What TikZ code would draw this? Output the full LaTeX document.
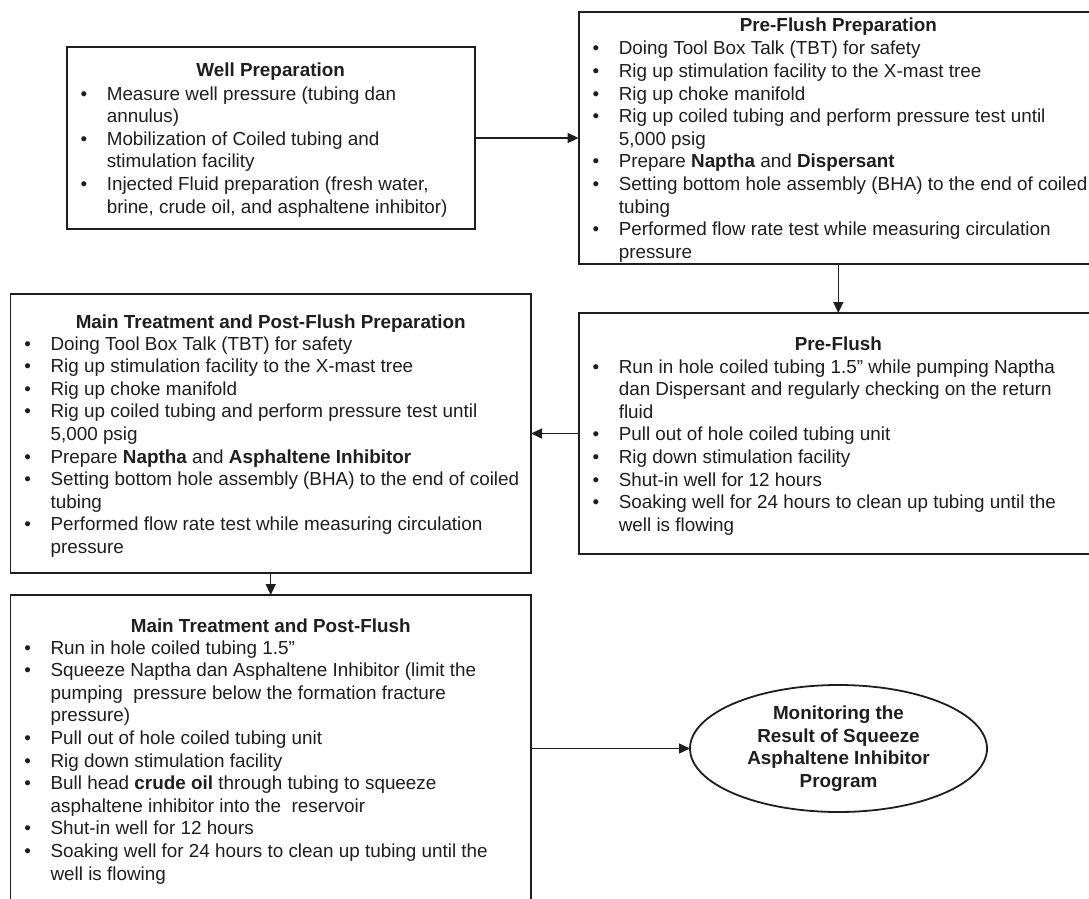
\documentclass[tikz,border=0pt]{standalone}
\usepackage{fontspec}
\setmainfont{Liberation Sans}
\usetikzlibrary{arrows.meta,shapes.geometric}
\definecolor{ink}{RGB}{30,30,30}
\newcommand\diagfont{\fontsize{18.86}{22.6}\selectfont}
\newcommand\blist[1]{\begin{tabular}[t]{@{}p{26.3pt}@{}l@{}}#1\end{tabular}}
\begin{document}
\begin{tikzpicture}[x=1pt,y=-1pt,
  box/.style={draw=ink, line width=1.8pt, rectangle, inner sep=0pt, outer sep=0pt},
  oval/.style={draw=ink, line width=1.8pt, ellipse, inner sep=0pt, outer sep=0pt, align=center, text=ink, font=\diagfont\bfseries},
  title/.style={anchor=base, inner sep=0pt, text=ink, font=\diagfont\bfseries},
  list/.style={anchor=base west, inner sep=0pt, text=ink, font=\diagfont},
  flow/.style={draw=ink, line width=1.4pt, -{Triangle[length=11pt,width=10pt]}}
]
\clip (0,0) rectangle (1089,899);

% boxes
\node[box, minimum width=408.1pt, minimum height=181.4pt] (wp) at (270.65,138) {};
\node[box, minimum width=519.4pt, minimum height=252pt] (pfp) at (838.3,138) {};
\node[box, minimum width=520.6pt, minimum height=279pt] (mp) at (270.7,433.5) {};
\node[box, minimum width=519.4pt, minimum height=241pt] (pf) at (838.3,433.5) {};
\node[box, minimum width=520.6pt, minimum height=330pt] (bt) at (270.7,760) {};
\node[oval, minimum width=297pt, minimum height=127pt] (el) at (838.5,748.5)
  {Monitoring the\\Result of Squeeze\\Asphaltene Inhibitor\\Program};

% Well Preparation
\node[title] (wpt) at (270.65,77) {Well Preparation};
\node[list] (wpl) at (80.3,100) {\blist{%
\textbullet & Measure well pressure (tubing dan\\
 & annulus)\\
\textbullet & Mobilization of Coiled tubing and\\
 & stimulation facility\\
\textbullet & Injected Fluid preparation (fresh water,\\
 & brine, crude oil, and asphaltene inhibitor)}};

% Pre-Flush Preparation
\node[title] (pfpt) at (838.3,32) {Pre-Flush Preparation};
\node[list] (pfpl) at (592.3,55) {\blist{%
\textbullet & Doing Tool Box Talk (TBT) for safety\\
\textbullet & Rig up stimulation facility to the X-mast tree\\
\textbullet & Rig up choke manifold\\
\textbullet & Rig up coiled tubing and perform pressure test until\\
 & 5,000 psig\\
\textbullet & Prepare \textbf{Naptha} and \textbf{Dispersant}\\
\textbullet & Setting bottom hole assembly (BHA) to the end of coiled\\
 & tubing\\
\textbullet & Performed flow rate test while measuring circulation\\
 & pressure}};

% Main Treatment and Post-Flush Preparation
\node[title] (mpt) at (270.7,328) {Main Treatment and Post-Flush Preparation};
\node[list] (mpl) at (24.1,350) {\blist{%
\textbullet & Doing Tool Box Talk (TBT) for safety\\
\textbullet & Rig up stimulation facility to the X-mast tree\\
\textbullet & Rig up choke manifold\\
\textbullet & Rig up coiled tubing and perform pressure test until\\
 & 5,000 psig\\
\textbullet & Prepare \textbf{Naptha} and \textbf{Asphaltene Inhibitor}\\
\textbullet & Setting bottom hole assembly (BHA) to the end of coiled\\
 & tubing\\
\textbullet & Performed flow rate test while measuring circulation\\
 & pressure}};

% Pre-Flush
\node[title] (pft) at (838.3,350) {Pre-Flush};
\node[list] (pfl) at (592.3,373) {\blist{%
\textbullet & Run in hole coiled tubing 1.5” while pumping Naptha\\
 & dan Dispersant and regularly checking on the return\\
 & fluid\\
\textbullet & Pull out of hole coiled tubing unit\\
\textbullet & Rig down stimulation facility\\
\textbullet & Shut-in well for 12 hours\\
\textbullet & Soaking well for 24 hours to clean up tubing until the\\
 & well is flowing}};

% Main Treatment and Post-Flush
\node[title] (btt) at (270.7,632) {Main Treatment and Post-Flush};
\node[list] (btl) at (24.1,654) {\blist{%
\textbullet & Run in hole coiled tubing 1.5”\\
\textbullet & Squeeze Naptha dan Asphaltene Inhibitor (limit the\\
 & pumping\ \ pressure below the formation fracture\\
 & pressure)\\
\textbullet & Pull out of hole coiled tubing unit\\
\textbullet & Rig down stimulation facility\\
\textbullet & Bull head \textbf{crude oil} through tubing to squeeze\\
 & asphaltene inhibitor into the\ \ reservoir\\
\textbullet & Shut-in well for 12 hours\\
\textbullet & Soaking well for 24 hours to clean up tubing until the\\
 & well is flowing}};

% connectors
\draw[flow] (wp.east) -- (pfp.west);
\draw[flow] (pfp.south) -- (pf.north);
\draw[flow] (pf.west) -- (mp.east);
\draw[flow] (mp.south) -- (bt.north);
\draw[flow] (bt.east |- el.west) -- (el.west);
\end{tikzpicture}
\end{document}
